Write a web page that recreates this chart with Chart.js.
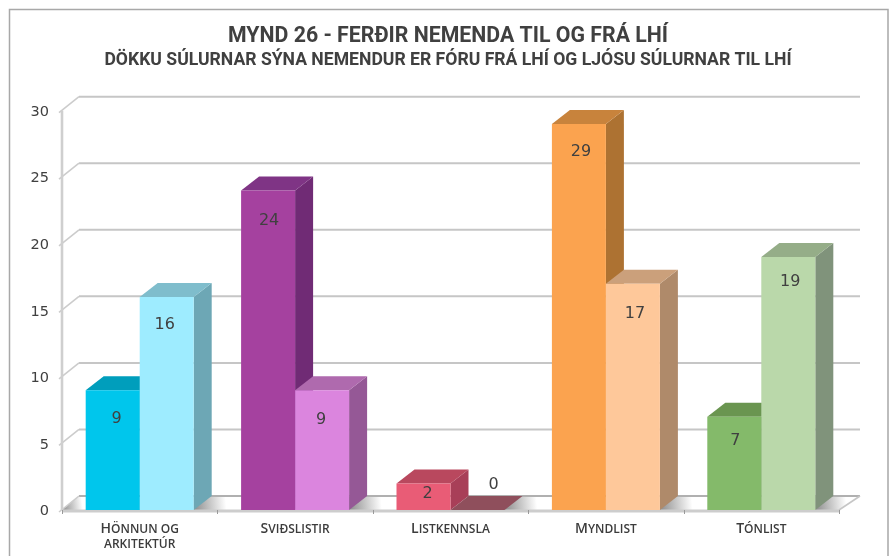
<!DOCTYPE html>
<html><head><meta charset="utf-8">
<style>html,body{margin:0;padding:0;background:#fff}canvas{display:block}</style>
<script src="https://cdn.jsdelivr.net/npm/chart.js@4"></script>
</head><body><canvas id="c" width="890" height="556"></canvas>
<script>
const categories = [["Hönnun og","arkitektúr"],"Sviðslistir","Listkennsla","Myndlist","Tónlist"];
const fraLhi = [9,24,2,29,7];
const tilLhi = [16,9,0,17,19];
const yTickStep = 5;
const titleText = "MYND 26 - FERÐIR NEMENDA TIL OG FRÁ LHÍ";
const subtitleText = "DÖKKU SÚLURNAR SÝNA NEMENDUR ER FÓRU FRÁ LHÍ OG LJÓSU SÚLURNAR TIL LHÍ";

const frontColors = ["#00C6EC","#A5419F","#E95C76","#FBA34F","#84BA6A"];
const topColors   = ["#009EBC","#7F3485","#B9485E","#C8833C","#6A9550"];
const sideColors  = ["#0089A3","#702B75","#A83F58","#AD7232","#5F8548"];
const lightFront  = ["#9EECFF","#DB85DE","#F2A0B0","#FEC89A","#BAD8AA"];
const lightTop    = ["#7FBDCC","#AF6AAE","#8F4F5C","#CBA07B","#95AD88"];
const lightSide   = ["#6DA7B5","#955896","#8F4F5C","#AF8A6A","#80937B"];

// value-label nudges relative to the bar top, in pixels
const darkNudgeX  = [4,1,4,2,1], darkNudgeY  = [29,30,10,28,24];
const lightNudgeX = [-2,-1,16,2,2], lightNudgeY = [28,30,-25,30,25];

const DX = 18, WALL_DX = 17, DY = 14, TEXT = "#404040";

function poly(ctx, pts, fill){
  ctx.beginPath();
  pts.forEach((p,i)=> i ? ctx.lineTo(p[0],p[1]) : ctx.moveTo(p[0],p[1]));
  ctx.closePath();
  ctx.fillStyle = fill; ctx.fill();
}
function line(ctx,x0,y0,x1,y1,color,w){
  ctx.beginPath(); ctx.moveTo(x0,y0); ctx.lineTo(x1,y1);
  ctx.strokeStyle=color; ctx.lineWidth=w; ctx.stroke();
}
const CAP='600 14px "Open Sans"', LOW='600 12px "Open Sans"';
function runs(s){
  const out=[];
  for(const ch of s){
    const big = ch!==ch.toLowerCase();
    const last=out[out.length-1];
    if(last && last.big===big) last.text+=ch.toUpperCase();
    else out.push({big,text:ch.toUpperCase()});
  }
  return out;
}
function smallCaps(ctx,s,cx,y){
  const rs=runs(s); let w=0;
  rs.forEach(r=>{ctx.font=r.big?CAP:LOW; r.w=ctx.measureText(r.text).width; w+=r.w;});
  let px=cx-w/2;
  rs.forEach(r=>{ctx.font=r.big?CAP:LOW; ctx.fillText(r.text,px,y); px+=r.w;});
}

const scene3d = {
  id:"scene3d",
  beforeDraw(chart){
    const {ctx,width,height}=chart;
    ctx.save();
    ctx.fillStyle="#fff"; ctx.fillRect(0,0,width,height);
    ctx.beginPath(); ctx.moveTo(9.5,height); ctx.lineTo(9.5,9.5); ctx.lineTo(888,9.5); ctx.lineTo(888,height);
    ctx.strokeStyle="#a8a8a8"; ctx.lineWidth=1.5; ctx.stroke();
    ctx.restore();
  },
  beforeDatasetsDraw(chart){
    const {ctx,chartArea:a,scales:{x,y}}=chart;
    ctx.save();
    const y0=y.getPixelForValue(0), farR=a.right+WALL_DX+4;
    poly(ctx,[[a.left,y0],[a.right,y0],[farR,y0-DY],[a.left+WALL_DX,y0-DY]],"#fff");
    ctx.save();
    ctx.beginPath();
    ctx.moveTo(a.left,y0);ctx.lineTo(a.right,y0);ctx.lineTo(farR,y0-DY);ctx.lineTo(a.left+WALL_DX,y0-DY);ctx.closePath();
    ctx.clip();
    const m0=chart.getDatasetMeta(0).data, m1=chart.getDatasetMeta(1).data;
    const edges=[a.left];
    m0.forEach((b,i)=>{edges.push(b.x-b.width/2, m1[i].x+m1[i].width/2);});
    edges.push(farR);
    for(let i=0;i<edges.length;i+=2){
      const l=edges[i], r=edges[i+1]+DX;
      const g=ctx.createLinearGradient(l,y0,r,y0-DY*0.4);
      g.addColorStop(0,"#8c8c8c");g.addColorStop(.5,"#ffffff");g.addColorStop(.8,"#ffffff");g.addColorStop(1,"#c4c4c4");
      ctx.fillStyle=g;ctx.fillRect(l,y0-DY,r-l+2,DY);
    }
    ctx.restore();
    y.ticks.forEach(t=>{
      const py=y.getPixelForValue(t.value);
      line(ctx,a.left+WALL_DX,py-DY,farR,py-DY,t.value===0?"#b0b0b0":"#c6c6c6",2);
      line(ctx,a.left-3,py+2,a.left+WALL_DX,py-DY,"#cccccc",1.6);
    });
    line(ctx,a.left,a.top,a.left,y0,"#cfcfcf",2.6);
    line(ctx,a.right,y0,farR,y0-DY,"#c6c6c6",1.6);
    line(ctx,a.left,y0+1,a.right,y0+1,"#cdcdcd",3);
    const step=(x.getPixelForValue(1)-x.getPixelForValue(0));
    for(let i=0;i<=categories.length;i++){
      const px=Math.round(x.getPixelForValue(0)-step/2+i*step)+.5;
      line(ctx,px,y0,px,y0+4,"#999999",1);
    }
    [[m0,topColors,sideColors],[m1,lightTop,lightSide]].forEach(([bars,tops,sides])=>{
      bars.forEach((b,i)=>{
        const l=b.x-b.width/2, r=b.x+b.width/2;
        poly(ctx,[[r,b.y],[r+DX,b.y-DY],[r+DX,b.base-DY],[r,b.base]],sides[i]);
        poly(ctx,[[l,b.y],[l+DX,b.y-DY],[r+DX,b.y-DY],[r,b.y]],tops[i]);
      });
    });
    ctx.restore();
  },
  afterDatasetsDraw(chart){
    const {ctx,scales:{x,y}}=chart;
    ctx.save();
    ctx.font='16px "DejaVu Sans"';
    ctx.fillStyle=TEXT; ctx.textAlign="center"; ctx.textBaseline="middle";
    [[darkNudgeX,darkNudgeY],[lightNudgeX,lightNudgeY]].forEach(([nx,ny],d)=>{
      chart.getDatasetMeta(d).data.forEach((b,i)=>{
        const v=chart.data.datasets[d].data[i];
        ctx.fillText(String(v),b.x+nx[i],b.y+ny[i]);
      });
    });
    ctx.textAlign="left"; ctx.textBaseline="alphabetic"; ctx.fillStyle="#3c3c3c";
    const y0=y.getPixelForValue(0);
    categories.forEach((c,i)=>{
      [].concat(c).forEach((s,k)=> smallCaps(ctx,s,x.getPixelForValue(i),y0+23+k*14.5));
    });
    ctx.restore();
  }
};

new Chart(document.getElementById("c"),{
  type:"bar",
  data:{labels:categories,datasets:[
    {label:"Frá LHÍ",data:fraLhi,backgroundColor:frontColors,borderWidth:0,categoryPercentage:.695,barPercentage:1},
    {label:"Til LHÍ",data:tilLhi,backgroundColor:lightFront,borderWidth:0,categoryPercentage:.695,barPercentage:1}
  ]},
  plugins:[scene3d],
  options:{
    responsive:false,animation:false,
    layout:{padding:{left:6,right:0,top:0,bottom:0}},
    plugins:{
      legend:{display:false},tooltip:{enabled:false},
      title:{display:true,text:titleText,color:TEXT,font:{family:"Roboto",weight:"bold",size:21.3,lineHeight:1.2},padding:{top:24,bottom:0}},
      subtitle:{display:true,text:subtitleText,color:TEXT,font:{family:"Roboto",weight:"bold",size:17.6,lineHeight:1.2},padding:{top:0,bottom:40}}
    },
    scales:{
      x:{grid:{display:false},border:{display:false},afterFit(s){s.height=46;},ticks:{display:false}},
      y:{min:0,max:30,grid:{display:false,drawTicks:false},border:{display:false},
         afterFit(s){s.width=56;},
         ticks:{stepSize:yTickStep,color:TEXT,padding:13,labelOffset:1.5,font:{family:'"DejaVu Sans"',size:14.5}}},
      rightSpace:{position:"right",grid:{display:false},border:{display:false},ticks:{display:false},afterFit(s){s.width=51;}}
    }
  }
});
</script></body></html>
